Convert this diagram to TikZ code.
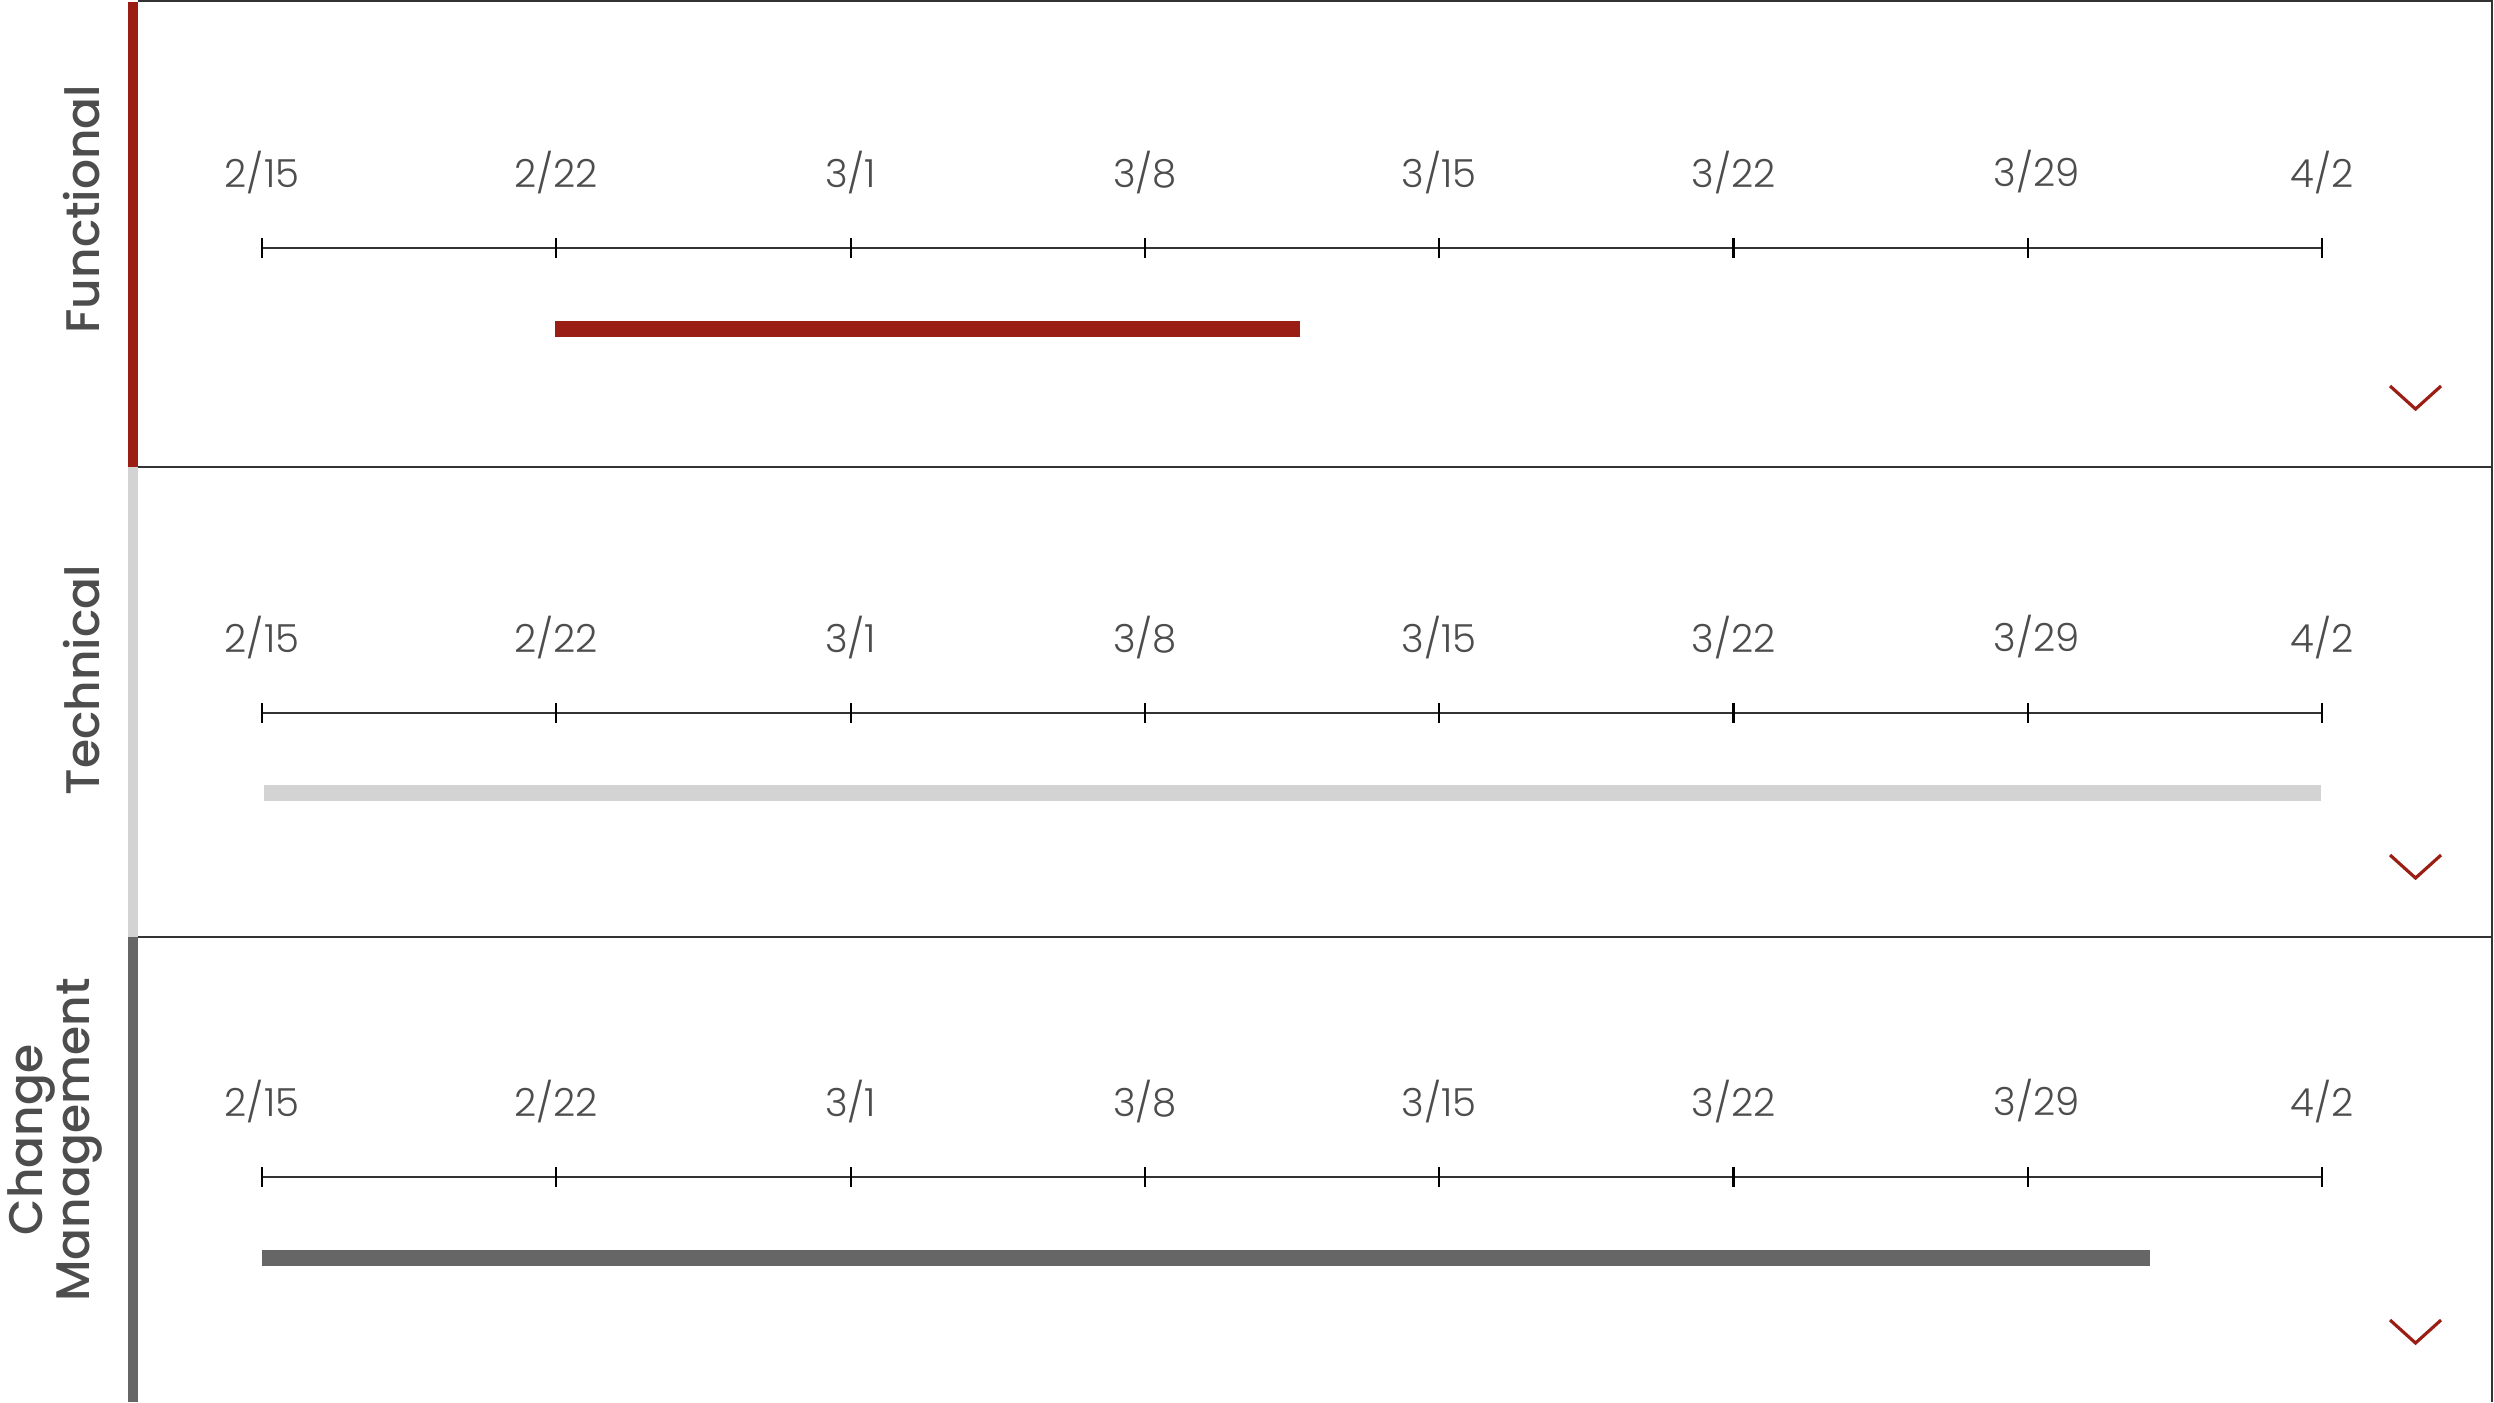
\documentclass[tikz,border=0pt]{standalone}
\usepackage{fontspec}
\setmainfont{Poppins}
\newfontfamily\lblfont{Poppins Light}
\newfontfamily\titlefont{Poppins Medium}
\definecolor{fred}{HTML}{9B1E15}
\definecolor{tgrey}{HTML}{D3D3D3}
\definecolor{cgrey}{HTML}{666666}
\definecolor{framec}{HTML}{333333}
\definecolor{txtc}{HTML}{4D4D4D}
\tikzset{
  frameline/.style={draw=framec, line width=0.6pt},
  axisline/.style={draw=framec, line width=0.6pt},
  tickline/.style={draw=black, line width=0.6pt},
  datelbl/.style={font=\lblfont\fontsize{11}{13}\selectfont, text=txtc, inner sep=0pt},
  titlelbl/.style={font=\titlefont\fontsize{13.4}{13.2}\selectfont, text=txtc, rotate=90, inner sep=0pt, align=center},
  chev/.style={draw=fred, line width=0.9pt},
  gbar/.style={line width=4.5pt}
}
\begin{document}
\begin{tikzpicture}[x=0.01cm,y=-0.01cm]
\useasboundingbox[fill=white] (0,0) rectangle (2494,1402);
% side colour bars
\fill[fred] (128,2) rectangle (138,467);
\fill[tgrey] (128,467) rectangle (138,937);
\fill[cgrey] (128,937) rectangle (138,1402);
% frame
\coordinate (ftl) at (138,1);
\coordinate (ftr) at (2492,1);
\coordinate (fbr) at (2492,1402);
\coordinate (d1l) at (138,467);
\coordinate (d1r) at (2492,467);
\coordinate (d2l) at (138,937);
\coordinate (d2r) at (2492,937);
\draw[frameline] (ftl) -- (ftr) -- (fbr);
\draw[frameline] (d1l) -- (d1r);
\draw[frameline] (d2l) -- (d2r);
% titles
\node[titlelbl] (tf) at (82,209) {Functional};
\node[titlelbl] (tt) at (82,680) {Technical};
\node[titlelbl] (tc) at (55,1140) {Change\\Management};
% timelines
\foreach \p/\L/\Ly in {a/248/173, b/713/638, c/1177/1102}{
  \coordinate (\p s) at (262,\L);
  \coordinate (\p e) at (2322,\L);
  \draw[axisline] (\p s) -- (\p e);
  \foreach \i/\d in {0/2\slash 15, 1/2\slash 22, 2/3\slash 1, 3/3\slash 8, 4/3\slash 15, 5/3\slash 22, 7/4\slash 2}{
    \coordinate (\p t\i) at ({262+294.3*\i},\L);
    \draw[tickline] ([yshift=-0.1cm]\p t\i) -- ([yshift=0.1cm]\p t\i);
    \node[datelbl] (\p l\i) at ({262+294.3*\i},\Ly) {\d};
  }
  \coordinate (\p t6) at ({262+294.3*6},\L);
  \draw[tickline] ([yshift=-0.1cm]\p t6) -- ([yshift=0.1cm]\p t6);
  \node[datelbl] (\p l6) at ({262+294.3*6+9},\Ly-1) {3/29};
}
% bars
\coordinate (ba1) at (555,329); \coordinate (ba2) at (1300,329);
\coordinate (bb1) at (264,793); \coordinate (bb2) at (2321,793);
\coordinate (bc1) at (262,1258); \coordinate (bc2) at (2150,1258);
\draw[gbar, fred] (ba1) -- (ba2);
\draw[gbar, tgrey] (bb1) -- (bb2);
\draw[gbar, cgrey] (bc1) -- (bc2);
% chevrons
\foreach \p/\cy in {a/386, b/855, c/1320}{
  \coordinate (\p c1) at (2390,\cy);
  \coordinate (\p c2) at (2415.5,\cy+23);
  \coordinate (\p c3) at (2441,\cy);
  \draw[chev] (\p c1) -- (\p c2) -- (\p c3);
}
\end{tikzpicture}
\end{document}
